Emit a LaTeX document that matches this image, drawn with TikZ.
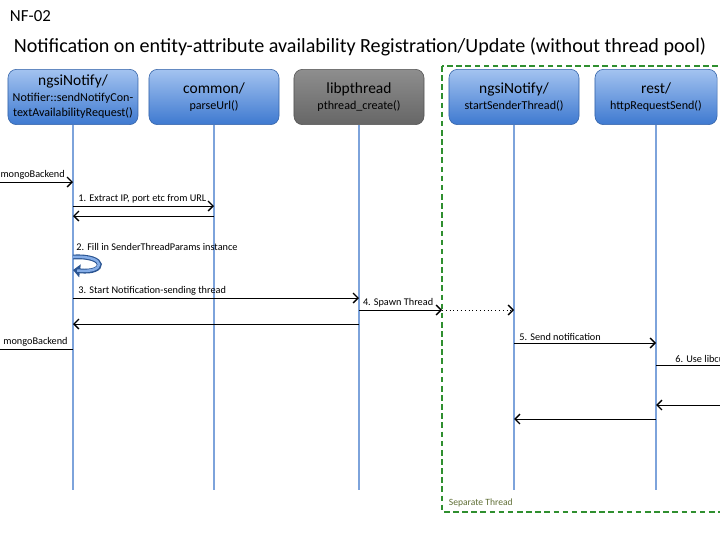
\documentclass[tikz,border=0pt]{standalone}
\usepackage{fontspec}
\setmainfont{Carlito}
\usetikzlibrary{arrows.meta}

\definecolor{boxtop}{HTML}{A3C3F0}
\definecolor{boxbot}{HTML}{3E79D0}
\definecolor{greytop}{HTML}{8E8E8E}
\definecolor{greybot}{HTML}{666666}
\definecolor{lifeblue}{HTML}{7DA3DB}
\definecolor{sepgreen}{HTML}{2F8F2F}
\definecolor{sepolive}{HTML}{5F6E35}

\begin{document}
\begin{tikzpicture}[x=0.025cm,y=-0.025cm]
      \tikzset{>={Straight Barb[length=3.5pt,width=7pt,line width=1pt]}}
      \tikzset{
        objbox/.style={rounded corners=6pt,draw=boxbot!80!black,top color=boxtop,bottom color=boxbot,
          minimum width=3.25cm,minimum height=1.38cm,align=center,inner sep=1pt,
          font=\fontsize{8.6}{11}\selectfont},
        libbox/.style={objbox,draw=greybot!80!black,top color=greytop,bottom color=greybot},
        lifeline/.style={draw=lifeblue,line width=0.8pt},
        msg/.style={->,line width=0.7pt},
        lbl/.style={font=\fontsize{7.3}{9}\selectfont,inner sep=1.5pt},
        sepbox/.style={draw=sepgreen,line width=1.3pt,dash pattern=on 4pt off 2.5pt}
      }
      \newcommand{\headtxt}{\fontsize{11}{13}\selectfont}

      \clip (0,0) rectangle (720,540);
      \useasboundingbox (0,0) rectangle (720,540);

      \node[anchor=west,font=\fontsize{12}{14}\selectfont] (nf) at (5,16) {NF-02};
      \node[font=\fontsize{14.3}{17}\selectfont] (title) at (360,47) {Notification on entity-attribute availability Registration/Update (without thread pool)};

      \draw[sepbox] (442,66) rectangle (760,512);
      \coordinate (sep) at (442,66);
      \node[anchor=west,text=sepolive,font=\fontsize{6.8}{8}\selectfont] (septxt) at (444,503) {Separate Thread};

      \node[objbox] (notif) at (73,97) {{\headtxt ngsiNotify/}\\Notifier::sendNotifyCon-\\textAvailabilityRequest()};
      \node[objbox] (parse) at (214,97) {{\headtxt common/}\\parseUrl()};
      \node[libbox] (pthr) at (359,97) {{\headtxt libpthread}\\pthread\_create()};
      \node[objbox] (start) at (514,97) {{\headtxt ngsiNotify/}\\startSenderThread()};
      \node[objbox,minimum width=3.05cm] (rest) at (656,97) {{\headtxt rest/}\\httpRequestSend()};

      \foreach \obj in {notif,parse,pthr,start,rest}
        \draw[lifeline] (\obj.south) -- (\obj |- 0,490);

      \coordinate (lft1) at (-30,182);
      \coordinate (lft2) at (-30,349);
      \coordinate (rgt1) at (760,365);
      \coordinate (rgt2) at (760,405);

      \draw[msg] (lft1) -- node[lbl,pos=1,anchor=south east,xshift=-4pt]{mongoBackend} (notif |- lft1);
      \draw[msg] (notif |- 0,206) -- node[lbl,pos=0,anchor=south west,xshift=2pt]{1. Extract IP, port etc from URL} (parse |- 0,206);
      \draw[msg] (parse |- 0,216) -- (notif |- 0,216);
      \node[lbl,anchor=south west] (fill) at (74,253) {2. Fill in SenderThreadParams instance};
      \draw[draw=boxbot!70!black,line width=3.4pt,-{Triangle[length=5pt,width=9pt]}] (notif |- 0,257) .. controls (108,255) and (106,274) .. (notif |- 0,270);
      \draw[boxtop!70!boxbot,line width=1.8pt,shorten >=3pt] (notif |- 0,257) .. controls (108,255) and (106,274) .. (notif |- 0,270);
      \draw[msg] (notif |- 0,298) -- node[lbl,pos=0,anchor=south west,xshift=2pt]{3. Start Notification-sending thread} (pthr |- 0,298);
      \draw[msg] (pthr |- 0,324) -- (notif |- 0,324);
      \draw[line width=0.7pt] (notif |- lft2) -- node[lbl,pos=0,anchor=south east,xshift=-2pt]{mongoBackend} (lft2);
      \draw[msg] (pthr |- 0,310) -- node[lbl,pos=0,anchor=south west,xshift=1pt]{4. Spawn Thread} (sep |- 0,310);
      \draw[msg,dotted] (sep |- 0,310) -- (start |- 0,310);
      \draw[msg] (start |- 0,343) -- node[lbl,pos=0,anchor=south west,xshift=2pt]{5. Send notification} (rest |- 0,343);
      \draw[line width=0.7pt] (rest |- rgt1) -- node[lbl,pos=0,anchor=south west,xshift=12pt]{6. Use libcurl} (rgt1);
      \draw[msg] (rgt2) -- (rest |- rgt2);
      \draw[msg] (rest |- 0,419) -- (start |- 0,419);
\end{tikzpicture}
\end{document}
